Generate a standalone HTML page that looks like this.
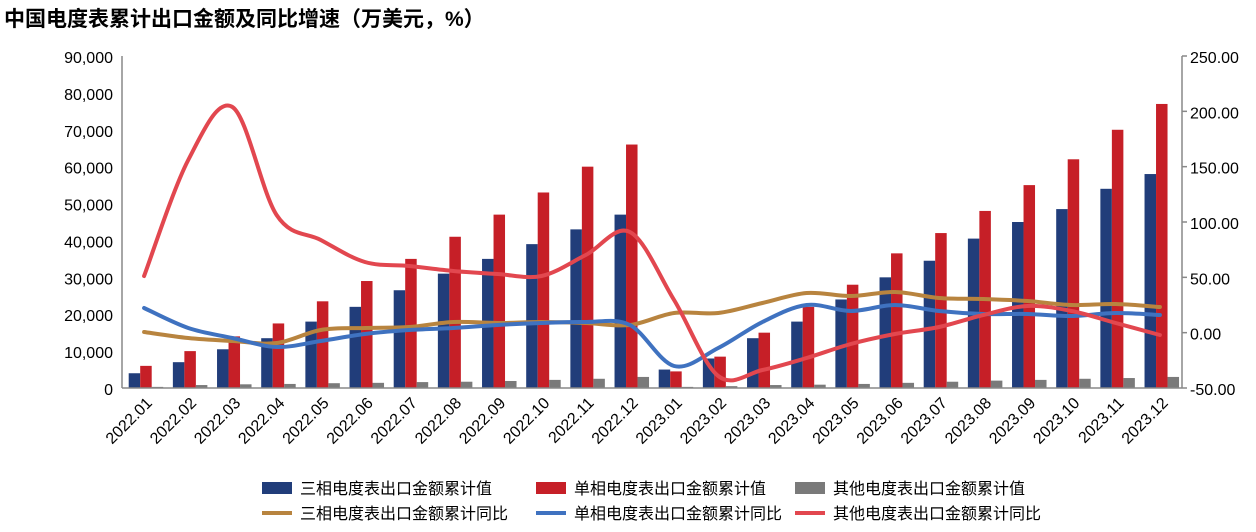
<!DOCTYPE html>
<html><head><meta charset="utf-8"><style>
body{margin:0;background:#fff;}
svg text{font-family:"Liberation Sans","Noto Sans CJK SC",sans-serif;}
</style></head><body>
<svg id="s" width="1256" height="527" xmlns="http://www.w3.org/2000/svg">
<text x="4" y="26" font-size="21" font-weight="bold" fill="#000">中国电度表累计出口金额及同比增速（万美元，%）</text>
<g id="g"></g>
</svg>
<script>
const g=document.getElementById('g');let h='';
const L=122,R=1182,T=56,B=388,n=24,w=(R-L)/n;
const yl=v=>B-v/90000*(B-T);
for(let i=0;i<=9;i++){const y=yl(i*10000);h+=`<text x="113" y="${y+7}" font-size="16" text-anchor="end">${i==0?'0':(i*10).toString()+',000'}</text>`;}
for(let i=0;i<=6;i++){const v=-50+i*50;const y=B-i*(B-T)/6;h+=`<text x="1190" y="${y+7}" font-size="16">${v.toFixed(2)}</text><line x1="${R}" x2="${R+5}" y1="${y}" y2="${y}" stroke="#888" stroke-width="1.5"/>`;}
const a=[4000,7000,10500,13500,18000,22000,26500,31000,35000,39000,43000,47000,5000,8000,13500,18000,24000,30000,34500,40500,45000,48500,54000,58000];
const b=[6000,10000,14000,17500,23500,29000,35000,41000,47000,53000,60000,66000,4500,8500,15000,22000,28000,36500,42000,48000,55000,62000,70000,77000];
const c=[300,800,1000,1100,1300,1400,1600,1700,1900,2200,2500,3000,300,500,800,900,1100,1400,1700,2000,2200,2500,2700,3000];
const bw=11.5;
for(let i=0;i<n;i++){const x0=L+i*w+6.7;
[[a,'#213d7a'],[b,'#c61f27'],[c,'#7a7a7a']].forEach((s,k)=>{const y=yl(s[0][i]);h+=`<rect x="${x0+k*bw}" y="${y}" width="${bw}" height="${B-y}" fill="${s[1]}"/>`;});
const cx=L+i*w+w/2;const lab=(i<12?'2022.':'2023.')+String(i%12+1).padStart(2,'0');
h+=`<text transform="translate(${cx+9},${B+16}) rotate(-45)" font-size="16" text-anchor="end">${lab}</text>`;}
function path(ys,col){const p=ys.map((y,i)=>[L+i*w+w/2,y]);let d=`M${p[0][0]},${p[0][1]}`;
for(let i=0;i<p.length-1;i++){const p0=p[i-1]||p[i],p1=p[i],p2=p[i+1],p3=p[i+2]||p2;
d+=` C${p1[0]+(p2[0]-p0[0])/6},${p1[1]+(p2[1]-p0[1])/6} ${p2[0]-(p3[0]-p1[0])/6},${p2[1]-(p3[1]-p1[1])/6} ${p2[0]},${p2[1]}`;}
return `<path d="${d}" fill="none" stroke="${col}" stroke-width="4" stroke-linecap="round"/>`;}
h+=path([332,338,341,343,330,328,327,322,323,322,323,325,313,313,303,293,296,292,298,299,301,305,304,307],'#b8843f');
h+=path([308,328,338,347,341,334,330,328,325,323,322,325,366,348,322,305,311,305,311,314,314,316,313,315],'#3f72c0');
h+=path([276,160,107,215,240,262,266,271,274,276,255,232,300,376,370,358,344,334,327,315,306,311,323,335],'#e2474f');
h+=`<line x1="${L}" y1="${T}" x2="${L}" y2="${B}" stroke="#888" stroke-width="1.5"/><line x1="${R}" y1="${T}" x2="${R}" y2="${B}" stroke="#888" stroke-width="1.5"/><line x1="${L}" y1="${B}" x2="${R}" y2="${B}" stroke="#888" stroke-width="1.5"/>`;
const lg=[[262,'#213d7a','三相电度表出口金额累计值'],[536,'#c61f27','单相电度表出口金额累计值'],[795,'#7a7a7a','其他电度表出口金额累计值']];
lg.forEach(l=>{h+=`<rect x="${l[0]}" y="482" width="30" height="12" fill="${l[1]}"/><text x="${l[0]+38}" y="494" font-size="16">${l[2]}</text>`;});
const lg2=[[262,'#b8843f','三相电度表出口金额累计同比'],[536,'#3f72c0','单相电度表出口金额累计同比'],[795,'#e2474f','其他电度表出口金额累计同比']];
lg2.forEach(l=>{h+=`<line x1="${l[0]}" y1="513" x2="${l[0]+30}" y2="513" stroke="${l[1]}" stroke-width="4"/><text x="${l[0]+38}" y="519" font-size="16">${l[2]}</text>`;});
g.innerHTML=h;
</script>
</body></html>
